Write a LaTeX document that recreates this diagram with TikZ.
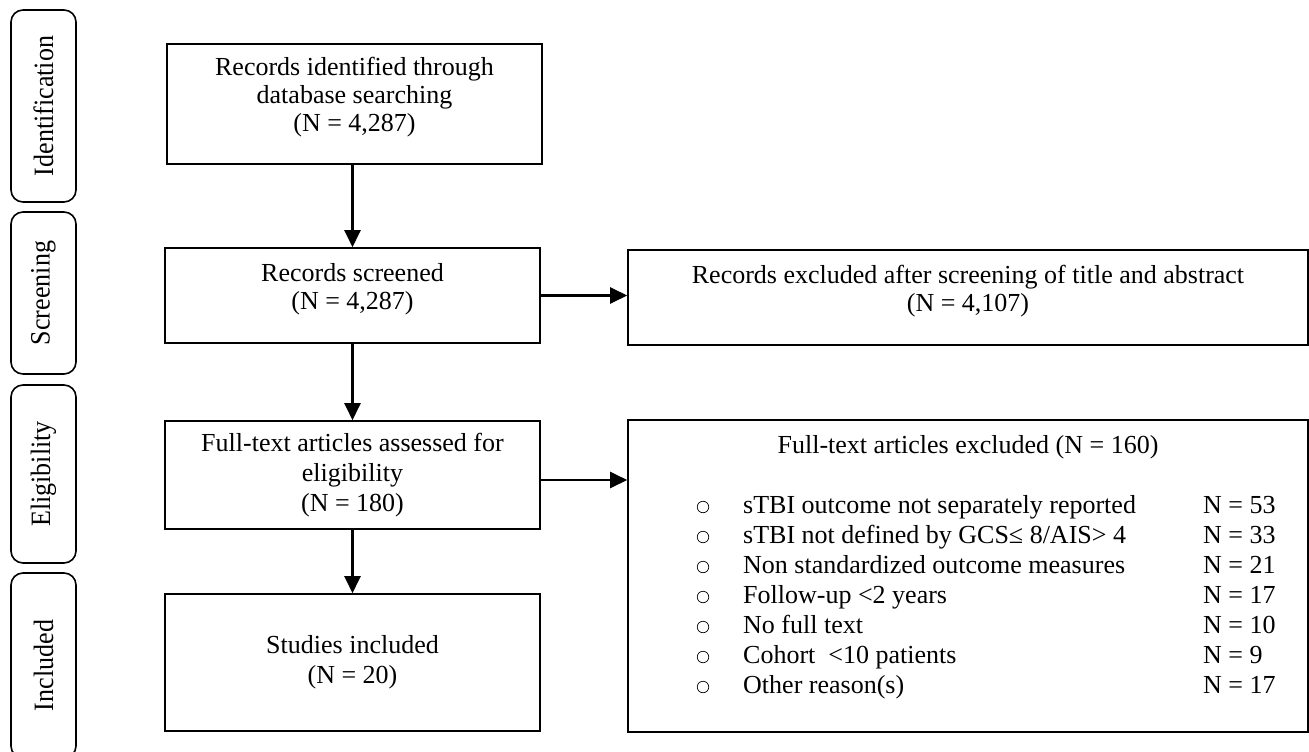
\documentclass[tikz,border=0pt]{standalone}
\usepackage{fontspec}
\setmainfont{Liberation Serif}
\usetikzlibrary{arrows.meta,calc}
\newcommand{\stagetext}[1]{\scalebox{0.93}[1]{#1}}
\begin{document}
\begin{tikzpicture}[x=1pt,y=-1pt,
  box/.style={draw,line width=1.6pt,align=center,inner sep=0pt,font=\fontsize{26}{28}\selectfont},
  txt/.style={inner sep=0pt,font=\fontsize{26}{28}\selectfont},
  stage/.style={draw,line width=1.6pt,rounded corners=12pt,rotate=90,inner sep=0pt,font=\fontsize{28}{30}\selectfont},
  arr/.style={line width=2.3pt,-{Triangle[length=17pt,width=16pt]}},
  bul/.style={circle,draw,line width=0.7pt,minimum size=11.5pt,inner sep=0pt}]
\useasboundingbox (0,0) rectangle (1309,752);
\clip (0,0) rectangle (1309,752);
% stage labels
\node[stage,minimum width=192,minimum height=65] (s1) at (43.5,106) {\stagetext{Identification}};
\node[stage,minimum width=162,minimum height=65] (s2) at (43.5,293) {\stagetext{Screening}};
\node[stage,minimum width=178,minimum height=65] (s3) at (43.5,474) {\stagetext{Eligibility}};
\node[stage,minimum width=185,minimum height=65] (s4) at (43.5,665.5) {\stagetext{Included}};
% main boxes
\node[box,minimum width=375,minimum height=120] (B1) at (354.5,104) {Records identified through\\database searching\\(N = 4,287)\\[-8pt]};
\node[box,minimum width=375,minimum height=95] (B2) at (352.5,295.5) {Records screened\\(N = 4,287)\\[-10pt]};
\node[box,minimum width=680,minimum height=95] (B3) at (968,297.5) {Records excluded after screening of title and abstract\\(N = 4,107)\\[-10pt]};
\node[box,font=\fontsize{26}{30}\selectfont,minimum width=375,minimum height=108] (B4) at (352.5,475) {Full-text articles assessed for\\eligibility\\(N = 180)};
\node[box,minimum width=680,minimum height=312] (B5) at (968,576) {};
\node[box,font=\fontsize{26}{30}\selectfont,minimum width=375,minimum height=137] (B6) at (352.5,662.5) {Studies included\\(N = 20)};
% exclusion list
\node[txt,anchor=base] (t5) at (968,453) {Full-text articles excluded (N = 160)};
\foreach \i/\t/\n in {0/{sTBI outcome not separately reported}/53,
                     1/{sTBI not defined by GCS≤ 8/AIS> 4}/33,
                     2/{Non standardized outcome measures}/21,
                     3/{Follow-up <2 years}/17,
                     4/{No full text}/10,
                     5/{Cohort\ \ <10 patients}/9,
                     6/{Other reason(s)}/17}{
  \node[bul] (o\i) at (703,{513+30*\i-6}) {};
  \node[txt,anchor=base west] (r\i) at (743,{513+30*\i}) {\t};
  \node[txt,anchor=base west] (n\i) at (1203,{513+30*\i}) {N = \n};
}
% arrows
\draw[arr] (B2.north |- B1.south) -- (B2.north);
\draw[arr] (B2.east) -- (B3.west |- B2.east);
\draw[arr] (B2.south) -- (B4.north);
\draw[arr] ($(B4.east)+(0,5)$) -- ($(B5.west |- B4.east)+(0,5)$);
\draw[arr] (B4.south) -- (B6.north);
\end{tikzpicture}
\end{document}
